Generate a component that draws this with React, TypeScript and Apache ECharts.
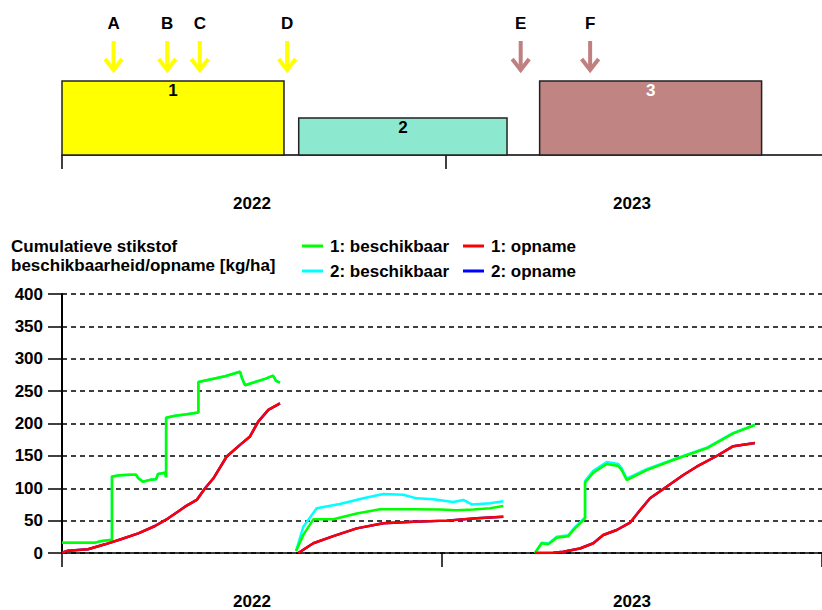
import React, { useEffect, useRef } from "react";
import * as echarts from "echarts";

// Day offsets are counted from 1 January 2022 (two seasons, 730 days).
const years = ["2022", "2023"];
const yearStartDays = [0, 365];

// Crop periods shown in the strip above the nitrogen graph
const cropIds = ["1", "2", "3"];
const cropStart = [0, 225, 454];
const cropEnd = [211, 423, 665];
const cropLevel = [2, 1, 2];
const cropColors = ["#FFFF00", "#8CE8CF", "#C08482"];
const cropLabelColors = ["#000000", "#000000", "#FFFFFF"];

// Fertiliser events (arrows)
const eventNames = ["A", "B", "C", "D", "E", "F"];
const eventDays = [49, 100, 131, 214, 436, 502];
const eventColors = ["#FFFF00", "#FFFF00", "#FFFF00", "#FFFF00", "#C08080", "#C08080"];

// 1: beschikbaar (available N), per crop period: [day, kg/ha]
const avail1Crop1 = [
  [0, 16], [31.7, 16], [36.5, 18], [46.1, 20], [48, 20], [48, 118], [55.7, 120], [65.3, 121],
  [71.1, 121], [73, 116], [77.8, 110], [84.5, 113], [90.3, 114], [92.2, 122], [98.9, 124],
  [100, 117], [100, 209], [108.5, 212], [118.1, 214], [131, 217], [131, 264], [142.2, 268],
  [156.6, 273], [171, 280], [172.9, 270], [175.8, 259], [185.4, 264], [195, 269], [202.7, 274],
  [205.6, 266], [209.4, 263],
];
const avail1Crop2 = [
  [224.8, 3], [231.8, 28], [241.4, 52], [260.6, 52], [283.1, 61], [305.5, 67.5], [337.4, 67.5],
  [363.1, 67], [379.1, 66], [395.1, 67], [411.1, 69], [423.9, 72.6],
];
const avail1Crop3 = [
  [454.3, 0], [460.8, 15], [467.1, 13.4], [475.2, 23.6], [486.3, 26], [491.1, 35.5], [502.4, 53.5],
  [502.4, 108.6], [510.3, 124], [523.2, 137.5], [534.3, 134.4], [537.6, 128], [542.4, 112.7],
  [561.6, 128], [587.2, 143.6], [619.2, 161.7], [644.8, 184.8], [665.6, 197.7],
];

// 2: beschikbaar
const avail2Crop1 = avail1Crop1;
const avail2Crop2 = [
  [224.8, 3], [231.8, 40.6], [244.6, 69], [267, 75.7], [289.4, 84.5], [308.6, 91], [327.8, 90],
  [340.7, 84.4], [356.6, 83], [375.8, 78.8], [385.5, 82], [393.5, 75], [411.1, 76.7], [423.9, 80],
];
const avail2Crop3 = [
  [454.3, 0], [460.8, 16], [467.1, 14.5], [475.2, 25], [486.3, 27.5], [491.1, 37], [502.4, 55],
  [502.4, 111], [510.3, 127], [523.2, 140.5], [534.3, 137.5], [537.6, 131], [542.4, 115],
  [561.6, 129.5], [587.2, 144.5], [619.2, 162.5], [644.8, 185.5], [665.6, 198],
];

// 1: opname (uptake)
const uptake1Crop1 = [
  [0, 0.5], [5.8, 3.5], [25, 5.7], [41.3, 13.4], [57.3, 21.6], [73.3, 30.4], [89.3, 41.7],
  [102.1, 53.6], [113.3, 66], [118.1, 71.5], [129.4, 82], [137.4, 100], [145.3, 115],
  [158.2, 149], [171, 167], [180.6, 180], [188.5, 203], [198.2, 221], [209.4, 231],
];
const uptake1Crop2 = [
  [227, 0], [241.4, 15], [260.6, 26], [283.1, 38], [308.6, 45.8], [337.4, 48.4], [369.5, 50],
  [398.3, 53.6], [423.9, 56],
];
const uptake1Crop3 = [
  [454.3, 0], [471.9, 0.5], [481.5, 2], [497.5, 7], [510.3, 15], [519.9, 27.8], [532.8, 35.5],
  [545.6, 46.8], [555.2, 66], [564.8, 84.5], [577.6, 98.8], [596.8, 120.5], [609.6, 133.3],
  [628.8, 149.8], [644.8, 165], [665.6, 170],
];

// 2: opname coincides with 1: opname
const uptake2Crop1 = uptake1Crop1;
const uptake2Crop2 = uptake1Crop2;
const uptake2Crop3 = uptake1Crop3;

// The crop strip runs on a slightly wider day scale than the graph below it
const STRIP_MAX_DAY = 722.4;

const FONT_FAMILY = "'Liberation Sans', Arial, sans-serif";
const FONT_SIZE = 17;
const FONT = `bold ${FONT_SIZE}px ${FONT_FAMILY}`;
const textBase = { fontFamily: FONT_FAMILY, fontSize: FONT_SIZE, fontWeight: "bold" as const, color: "#000" };

function lineSeries(name: string, color: string, data: number[][]) {
  return {
    type: "line",
    name,
    xAxisIndex: 2,
    yAxisIndex: 1,
    data,
    showSymbol: false,
    symbol: "none",
    silent: true,
    itemStyle: { color },
    lineStyle: { color, width: 2.5 },
  };
}

function buildOption() {
  const yearAxis = (gridIndex: number) => ({
    gridIndex,
    type: "category",
    data: years,
    position: "bottom",
    axisLine: { show: false },
    axisTick: { show: false },
    axisLabel: { ...textBase, margin: 40 },
    splitLine: { show: false },
  });
  const axisLine = { show: true, lineStyle: { color: "#000", width: 1.5 } };
  const tickStyle = { color: "#000", width: 1.5 };

  return {
    animation: false,
    backgroundColor: "#fff",
    title: {
      text: "Cumulatieve stikstof\nbeschikbaarheid/opname [kg/ha]",
      left: 11,
      top: 237,
      padding: 0,
      textStyle: { ...textBase, lineHeight: 19 },
    },
    legend: [
      {
        data: ["1: beschikbaar", "2: beschikbaar"],
        orient: "vertical",
        left: 302,
        top: 236,
        padding: 0,
        itemWidth: 21,
        itemHeight: 3,
        itemGap: 5,
        icon: "rect",
        selectedMode: false,
        textStyle: { ...textBase, lineHeight: 20, padding: [0, 0, 0, 2] },
      },
      {
        data: ["1: opname", "2: opname"],
        orient: "vertical",
        left: 463,
        top: 236,
        padding: 0,
        itemWidth: 21,
        itemHeight: 3,
        itemGap: 5,
        icon: "rect",
        selectedMode: false,
        textStyle: { ...textBase, lineHeight: 20, padding: [0, 0, 0, 2] },
      },
    ],
    grid: [
      { left: 62, top: 81, width: 760, height: 74 },
      { left: 62, top: 294, width: 760, height: 259 },
    ],
    xAxis: [
      {
        gridIndex: 0,
        type: "value",
        min: 0,
        max: STRIP_MAX_DAY,
        axisLine,
        axisTick: { show: true, length: 14, lineStyle: tickStyle, customValues: yearStartDays },
        axisLabel: { show: false },
        splitLine: { show: false },
      },
      yearAxis(0),
      {
        gridIndex: 1,
        type: "value",
        min: 0,
        max: 730,
        interval: 365,
        axisLine,
        axisTick: { show: true, length: 14, lineStyle: tickStyle },
        axisLabel: { show: false },
        splitLine: { show: false },
      },
      yearAxis(1),
    ],
    yAxis: [
      { gridIndex: 0, type: "value", min: 0, max: 2, show: false },
      {
        gridIndex: 1,
        type: "value",
        min: 0,
        max: 400,
        interval: 50,
        axisLine: { show: true, lineStyle: { color: "#000", width: 2 } },
        axisTick: { show: true, length: 14, lineStyle: tickStyle },
        axisLabel: { ...textBase, margin: 19, padding: [0, 0, 5, 0] },
        splitLine: { show: true, lineStyle: { color: "#000", width: 1.5, type: [5, 4] } },
      },
    ],
    series: [
      {
        type: "custom",
        xAxisIndex: 0,
        yAxisIndex: 0,
        silent: true,
        data: cropIds.map((_, i) => [cropStart[i], cropEnd[i], cropLevel[i], i]),
        renderItem: (_params: any, api: any) => {
          const i = api.value(3);
          const p0 = api.coord([api.value(0), api.value(2)]);
          const p1 = api.coord([api.value(1), 0]);
          return {
            type: "group",
            children: [
              {
                type: "rect",
                shape: { x: p0[0], y: p0[1], width: p1[0] - p0[0], height: p1[1] - p0[1] },
                style: { fill: cropColors[i], stroke: "#222", lineWidth: 1.5 },
              },
              {
                type: "text",
                x: (p0[0] + p1[0]) / 2,
                y: p0[1] + 1,
                style: {
                  text: cropIds[i],
                  fill: cropLabelColors[i],
                  font: FONT,
                  align: "center",
                  verticalAlign: "top",
                },
              },
            ],
          };
        },
      },
      {
        type: "custom",
        xAxisIndex: 0,
        yAxisIndex: 0,
        silent: true,
        data: eventDays.map((d, i) => [d, i]),
        renderItem: (params: any, api: any) => {
          const i = api.value(1);
          const x = api.coord([api.value(0), 0])[0];
          const top = params.coordSys.y;
          const color = eventColors[i];
          return {
            type: "group",
            children: [
              {
                type: "text",
                x,
                y: top - 58,
                style: { text: eventNames[i], fill: "#000", font: FONT, align: "center", verticalAlign: "middle" },
              },
              {
                type: "line",
                shape: { x1: x, y1: top - 40, x2: x, y2: top - 11 },
                style: { stroke: color, lineWidth: 4 },
              },
              {
                type: "polyline",
                shape: { points: [[x - 8.5, top - 22], [x, top - 11], [x + 8.5, top - 22]] },
                style: { stroke: color, lineWidth: 4, fill: "none", lineJoin: "miter" },
              },
            ],
          };
        },
      },
      lineSeries("2: beschikbaar", "#00FFFF", avail2Crop1),
      lineSeries("2: beschikbaar", "#00FFFF", avail2Crop2),
      lineSeries("2: beschikbaar", "#00FFFF", avail2Crop3),
      lineSeries("2: opname", "#0000FF", uptake2Crop1),
      lineSeries("2: opname", "#0000FF", uptake2Crop2),
      lineSeries("2: opname", "#0000FF", uptake2Crop3),
      lineSeries("1: beschikbaar", "#00FF00", avail1Crop1),
      lineSeries("1: beschikbaar", "#00FF00", avail1Crop2),
      lineSeries("1: beschikbaar", "#00FF00", avail1Crop3),
      lineSeries("1: opname", "#FF0000", uptake1Crop1),
      lineSeries("1: opname", "#FF0000", uptake1Crop2),
      lineSeries("1: opname", "#FF0000", uptake1Crop3),
    ],
  };
}

export default function App() {
  const ref = useRef<HTMLDivElement>(null);
  useEffect(() => {
    if (!ref.current) return;
    const chart = echarts.init(ref.current, null, { renderer: "svg" });
    chart.setOption(buildOption() as any);
    return () => chart.dispose();
  }, []);
  return (
    <div
      ref={ref}
      style={{ position: "absolute", left: 0, top: 0, width: 822, height: 610, background: "#fff" }}
    />
  );
}
